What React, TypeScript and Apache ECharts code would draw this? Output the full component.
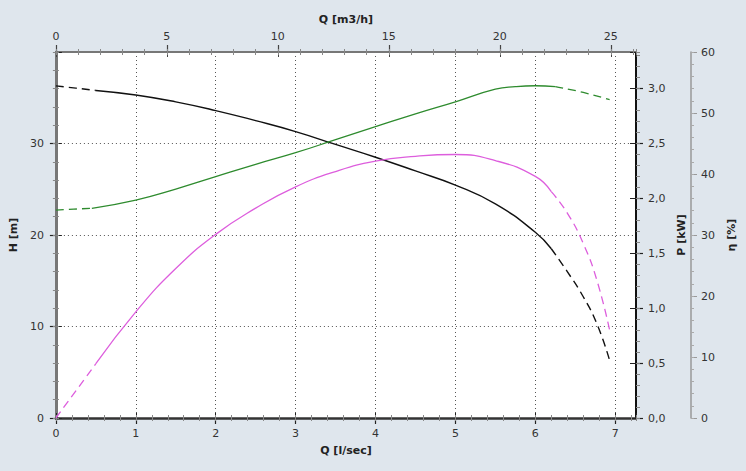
import React, { useEffect, useRef } from "react";
import * as echarts from "echarts";

// Head curve H [m] vs Q [l/sec]
const headQ = [0, 0.5, 1, 1.5, 2, 2.5, 3, 3.5, 4, 4.5, 5, 5.5, 6, 6.2, 6.4, 6.6, 6.77, 6.93];
const headH = [36.3, 35.8, 35.3, 34.55, 33.6, 32.5, 31.3, 29.9, 28.5, 27.0, 25.45, 23.4, 20.3, 18.5, 16.0, 13.25, 10.3, 6.3];
const headSolid = [1, 13]; // index range drawn solid

// Power curve P [kW] vs Q [l/sec]
const powerQ = [0, 0.45, 1, 1.5, 2, 2.5, 3, 3.5, 4, 4.5, 5, 5.5, 5.75, 6, 6.25, 6.6, 6.93];
const powerP = [1.894, 1.91, 1.985, 2.085, 2.198, 2.31, 2.416, 2.535, 2.653, 2.77, 2.88, 2.995, 3.018, 3.026, 3.018, 2.965, 2.9];
const powerSolid = [1, 14];

// Efficiency curve eta [%] vs Q [l/sec]
const effQ = [0, 0.5, 1, 1.5, 2, 2.5, 3, 3.5, 4, 4.5, 5, 5.5, 6, 6.2, 6.4, 6.6, 6.77, 6.93];
const effE = [0, 8.9, 17.4, 24.5, 30.1, 34.4, 37.9, 40.4, 42.1, 42.9, 43.2, 42.2, 39.6, 37.1, 33.6, 28.6, 22.6, 14.4];
const effSolid = [1, 13];

const Q_MAX = 7.26; // l/sec at right edge
const M3H_PER_LS = 3.6;

const FONT = "DejaVu Sans, Verdana, sans-serif";
const BG = "#dfe6ed";

function pairs(xs: number[], ys: number[], a: number, b: number) {
  const out: number[][] = [];
  for (let i = a; i <= b; i++) out.push([xs[i], ys[i]]);
  return out;
}

function curveSeries(xs: number[], ys: number[], solid: number[], color: string, yIdx: number, width: number) {
  const base = {
    type: "line",
    xAxisIndex: 0,
    yAxisIndex: yIdx,
    smooth: 0.5,
    showSymbol: false,
    symbol: "none",
    silent: true,
  };
  return [
    { ...base, data: pairs(xs, ys, 0, solid[0]), lineStyle: { color, width, type: [8, 5] } },
    { ...base, data: pairs(xs, ys, solid[0], solid[1]), lineStyle: { color, width } },
    { ...base, data: pairs(xs, ys, solid[1], xs.length - 1), lineStyle: { color, width, type: [8, 5] } },
  ];
}

const labelStyle = { color: "#333", fontSize: 11, fontFamily: FONT };
const nameStyle = { color: "#222", fontSize: 11, fontFamily: FONT, fontWeight: "bold" };

function tickAxis(pos: string, min: number, max: number, interval: number, inside: boolean, len: number, color: string, extra: any = {}) {
  return {
    type: "value",
    position: pos,
    min,
    max,
    interval,
    axisLine: { show: false, onZero: false },
    axisTick: { show: true, inside, length: len, lineStyle: { color, width: 1 } },
    axisLabel: { show: false },
    splitLine: { show: false },
    ...extra,
  };
}

export default function App() {
  const ref = useRef<HTMLDivElement>(null);
  useEffect(() => {
    if (!ref.current) return;
    const chart = echarts.init(ref.current, null, { renderer: "svg" });
    const xMaxM3h = Q_MAX * M3H_PER_LS;
    const pMax = 10 / 3;
    const option: any = {
      animation: false,
      backgroundColor: BG,
      grid: {
        left: 55,
        right: 110,
        top: 52,
        bottom: 53,
        show: true,
        backgroundColor: "#fff",
        borderWidth: 0,
      },
      xAxis: [
        {
          type: "value",
          position: "bottom",
          min: 0,
          max: Q_MAX,
          interval: 1,
          name: "Q [l/sec]",
          nameLocation: "middle",
          nameGap: 27,
          nameTextStyle: nameStyle,
          axisLine: { show: true, onZero: false, lineStyle: { color: "#333", width: 2.5 } },
          axisTick: { show: true, length: 6, lineStyle: { color: "#222", width: 1.2 } },
          axisLabel: { ...labelStyle, margin: 10, showMaxLabel: false },
          splitLine: { show: true, lineStyle: { color: "#555", width: 1, type: [1, 3] } },
        },
        tickAxis("bottom", 0, Q_MAX, 1, true, 5, "#222"),
        tickAxis("bottom", 0, Q_MAX, 0.2, false, 3, "#888"),
        tickAxis("bottom", 0, Q_MAX, 0.2, true, 3, "#888"),
        {
          type: "value",
          position: "top",
          min: 0,
          max: xMaxM3h,
          interval: 5,
          name: "Q [m3/h]",
          nameLocation: "middle",
          nameGap: 27,
          nameTextStyle: nameStyle,
          axisLine: { show: true, onZero: false, lineStyle: { color: "#777", width: 2 } },
          axisTick: { show: true, length: 7, lineStyle: { color: "#444", width: 1.2 } },
          axisLabel: { ...labelStyle, margin: 10, showMaxLabel: false },
          splitLine: { show: false },
        },
        tickAxis("top", 0, xMaxM3h, 5, true, 5, "#444"),
        tickAxis("top", 0, xMaxM3h, 1, false, 3, "#888"),
        tickAxis("top", 0, xMaxM3h, 1, true, 3, "#888"),
      ],
      yAxis: [
        {
          type: "value",
          position: "left",
          min: 0,
          max: 40,
          interval: 10,
          name: "H [m]",
          nameLocation: "middle",
          nameGap: 31,
          nameTextStyle: nameStyle,
          axisLine: { show: true, onZero: false, lineStyle: { color: "#777", width: 3 } },
          axisTick: { show: true, length: 6, lineStyle: { color: "#222", width: 1.2 } },
          axisLabel: { ...labelStyle, margin: 12, showMaxLabel: false },
          splitLine: { show: true, lineStyle: { color: "#555", width: 1, type: [1, 3] } },
        },
        tickAxis("left", 0, 40, 10, true, 6, "#222"),
        tickAxis("left", 0, 40, 2, false, 3, "#888"),
        tickAxis("left", 0, 40, 2, true, 3, "#888"),
        {
          type: "value",
          position: "right",
          min: 0,
          max: pMax,
          interval: 0.5,
          name: "P [kW]",
          nameLocation: "middle",
          nameGap: 38,
          nameTextStyle: nameStyle,
          axisLine: { show: true, onZero: false, lineStyle: { color: "#111", width: 2 } },
          axisTick: { show: true, length: 7, lineStyle: { color: "#222", width: 1.2 } },
          axisLabel: {
            ...labelStyle,
            margin: 12,
            showMaxLabel: false,
            formatter: (v: number) => v.toFixed(1).replace(".", ","),
          },
          splitLine: { show: false },
        },
        tickAxis("right", 0, pMax, 0.5, true, 6, "#222"),
        tickAxis("right", 0, pMax, 0.1, false, 4, "#888"),
        {
          type: "value",
          position: "right",
          offset: 55,
          min: 0,
          max: 60,
          interval: 10,
          name: "η [%]",
          nameLocation: "middle",
          nameGap: 31,
          nameTextStyle: nameStyle,
          axisLine: { show: true, onZero: false, lineStyle: { color: "#999", width: 1.5 } },
          axisTick: { show: true, length: 6, lineStyle: { color: "#999", width: 1 } },
          axisLabel: { ...labelStyle, margin: 10 },
          splitLine: { show: false },
        },
        tickAxis("right", 0, 60, 2, false, 3, "#aaa", { offset: 55 }),
      ],
      series: [
        ...curveSeries(headQ, headH, headSolid, "#111", 0, 1.4),
        ...curveSeries(powerQ, powerP, powerSolid, "#2e8b2e", 4, 1.3),
        ...curveSeries(effQ, effE, effSolid, "#dd5edd", 7, 1.3),
      ],
    };
    chart.setOption(option);
    return () => chart.dispose();
  }, []);
  return (
    <div
      ref={ref}
      style={{ position: "fixed", left: 0, top: 0, width: 746, height: 471 }}
    />
  );
}
